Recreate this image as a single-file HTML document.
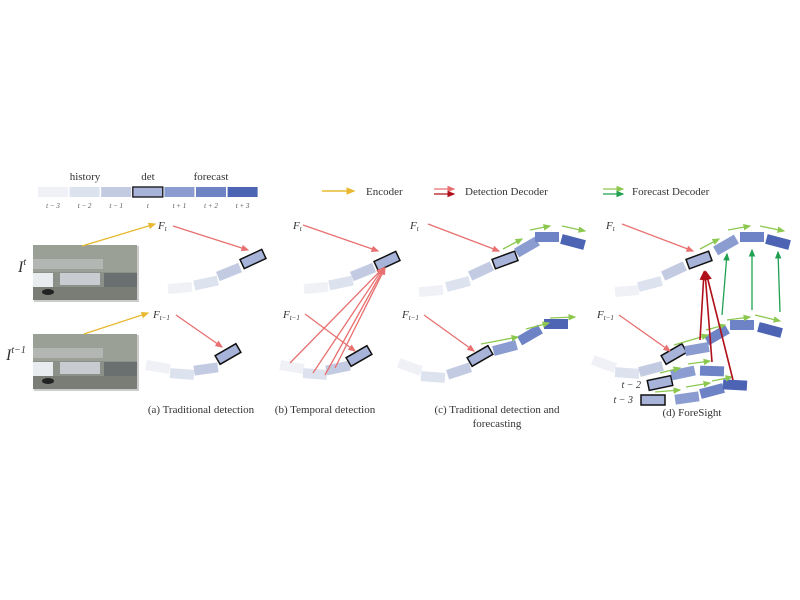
<!DOCTYPE html>
<html><head><meta charset="utf-8">
<style>
html,body{margin:0;padding:0;background:#fff;}
svg{display:block;font-family:"Liberation Serif",serif;}
</style></head>
<body>
<svg id="fig" width="800" height="600" viewBox="0 0 800 600" xmlns="http://www.w3.org/2000/svg">
<defs>
<marker id="mY" markerWidth="6" markerHeight="6" refX="5" refY="3" orient="auto"><path d="M0,0.5 L6,3 L0,5.5z" fill="#e8b830"/></marker>
<marker id="mR" markerWidth="6" markerHeight="6" refX="5" refY="3" orient="auto"><path d="M0,0.5 L6,3 L0,5.5z" fill="#e87070"/></marker>
<marker id="mD" markerWidth="6" markerHeight="6" refX="5" refY="3" orient="auto"><path d="M0,0.5 L6,3 L0,5.5z" fill="#b0101a"/></marker>
<marker id="mG" markerWidth="6" markerHeight="6" refX="5" refY="3" orient="auto"><path d="M0,0.5 L6,3 L0,5.5z" fill="#8cc850"/></marker>
<marker id="mE" markerWidth="6" markerHeight="6" refX="5" refY="3" orient="auto"><path d="M0,0.5 L6,3 L0,5.5z" fill="#20a050"/></marker>
</defs>
<g id="legend" font-size="11" fill="#333">
<text x="85" y="180" text-anchor="middle">history</text>
<text x="148" y="180" text-anchor="middle">det</text>
<text x="211" y="180" text-anchor="middle">forecast</text>
<line x1="322" y1="191" x2="354" y2="191" stroke="#e8b830" stroke-width="1.5" marker-end="url(#mY)"/>
<text x="366" y="195">Encoder</text>
<line x1="434" y1="189" x2="454" y2="189" stroke="#e87070" stroke-width="1.3" marker-end="url(#mR)"/>
<line x1="434" y1="194" x2="454" y2="194" stroke="#b0101a" stroke-width="1.3" marker-end="url(#mD)"/>
<text x="465" y="195">Detection Decoder</text>
<line x1="603" y1="189" x2="623" y2="189" stroke="#8cc850" stroke-width="1.3" marker-end="url(#mG)"/>
<line x1="603" y1="194" x2="623" y2="194" stroke="#20a050" stroke-width="1.3" marker-end="url(#mE)"/>
<text x="632" y="195">Forecast Decoder</text>
</g>
<g id="marks"></g>
<g font-size="11" fill="#333" font-style="italic">
<text x="18" y="272" font-size="16">I<tspan font-size="10" dy="-7">t</tspan></text>
<text x="6" y="360" font-size="16">I<tspan font-size="10" dy="-7">t−1</tspan></text>
</g>
<g font-size="11" fill="#333" text-anchor="middle">
<text x="201" y="413">(a) Traditional detection</text>
<text x="325" y="413">(b) Temporal detection</text>
<text x="497" y="413">(c) Traditional detection and</text>
<text x="497" y="427">forecasting</text>
<text x="692" y="416">(d) ForeSight</text>
</g>
</svg>
<script>
const NS="http://www.w3.org/2000/svg";
const colors=["#eff1f7","#dde2ef","#c3cbe3","#a7b3d8","#8b9cd0","#6e83c5","#4d64b4"];
// legend
const legendLabels=["t − 3","t − 2","t − 1","t","t + 1","t + 2","t + 3"];
// boxes: [cx, cy, angleDeg, colorIndex, outlined]
const boxesA=[[180,288,-5,0,0],[206,283,-12,1,0],[229,272,-22,2,0],[253,259,-25,3,1],
 [158,367,10,0,0],[182,374,4,1,0],[206,369,-8,2,0],[228,354,-30,3,1]];
const boxesB=[[316,288,-5,0,0],[341,283,-12,1,0],[363,272,-22,2,0],[387,261,-25,3,1],
 [292,367,10,0,0],[315,374,4,1,0],[338,368,-12,2,0],[359,356,-30,3,1]];
const boxesC=[[431,291,-5,0,0],[458,284,-15,1,0],[481,271,-25,2,0],[505,260,-20,3,1],[527,247,-30,4,0],[547,237,0,5,0],[573,242,15,6,0],
 [410,367,20,0,0],[433,377,4,1,0],[459,371,-18,2,0],[480,356,-30,3,1],[505,348,-15,4,0],[530,335,-30,5,0],[556,324,0,6,0]];
const boxesD=[[627,291,-5,0,0],[650,284,-15,1,0],[674,271,-25,2,0],[699,260,-20,3,1],[726,245,-30,4,0],[752,237,0,5,0],[778,242,15,6,0],
 [604,364,20,0,0],[627,373,4,1,0],[651,369,-15,2,0],[674,354,-30,3,1],[697,349,-10,4,0],[717,335,-30,5,0],[742,325,0,5,0],[770,330,15,6,0],
 [660,383,-12,3,1],[683,373,-12,4,0],[712,371,2,5,0],
 [653,400,0,3,1],[687,398,-8,4,0],[712,391,-15,5,0],[735,385,3,6,0]];
// arrows: [x1,y1,x2,y2,type]
const arrows=[
 [82,246,155,224,"Y"],[84,334,148,313,"Y"],
 [173,226,248,250,"R"],[176,315,222,347,"R"],
 [303,225,378,251,"R"],[305,314,355,351,"R"],
 [290,363,383,268,"R"],[313,373,383,268,"R"],[325,375,384,268,"R"],[335,368,385,268,"R"],
 [428,224,499,251,"R"],[424,315,474,351,"R"],
 [503,249,522,239,"G"],[530,230,550,226,"G"],[562,226,585,231,"G"],
 [481,344,518,337,"G"],[526,329,549,323,"G"],[550,318,575,317,"G"],
 [622,224,693,251,"R"],[619,315,670,351,"R"],
 [700,249,719,239,"G"],[728,230,750,226,"G"],[760,226,784,231,"G"],
 [674,345,708,335,"G"],[706,330,725,325,"G"],[727,320,750,317,"G"],[755,315,780,321,"G"],
 [660,373,680,368,"G"],[688,364,710,361,"G"],[655,392,680,390,"G"],[686,387,710,383,"G"],[712,381,732,377,"G"],
 [700,340,704,272,"D"],[712,362,705,272,"D"],[733,380,706,272,"D"],
 [722,315,727,254,"E"],[752,310,752,250,"E"],[780,312,778,252,"E"]];
const arrowColors={Y:"#e8b830",R:"#e87070",D:"#b0101a",G:"#8cc850",E:"#20a050"};
const fLabels=[[158,229,"t"],[293,229,"t"],[410,229,"t"],[606,229,"t"],
 [153,318,"t−1"],[283,318,"t−1"],[402,318,"t−1"],[597,318,"t−1"]];

const g=document.getElementById('marks');
function mk(tag,attrs,parent){const e=document.createElementNS(NS,tag);for(const k in attrs)e.setAttribute(k,attrs[k]);(parent||g).appendChild(e);return e;}

// legend bars
legendLabels.forEach((lab,i)=>{
 const r=mk('rect',{x:38+i*31.6,y:187,width:30,height:10,fill:colors[i],stroke:i===3?"#111":"none","stroke-width":1.3});
 
 
 const t=mk('text',{x:53+i*31.6,y:208,"font-size":7,"text-anchor":"middle","font-style":"italic",fill:"#555"});
 t.textContent=lab;
 
 
});
// camera images
[245,334].forEach((y,k)=>{
 const grp=mk('g',{});
 
 
 mk('rect',{x:34,y:y+1,width:105,height:56,fill:"#ccc",filter:""},grp);
 mk('rect',{x:33,y:y,width:104,height:55,fill:"#8c9088"},grp);
 mk('rect',{x:33,y:y,width:104,height:27,fill:"#9aa096"},grp);
 mk('rect',{x:33,y:y+14,width:70,height:10,fill:"#b4b6b4"},grp);
 mk('rect',{x:33,y:y+28,width:20,height:14,fill:"#e8ecee"},grp);
 mk('rect',{x:60,y:y+28,width:40,height:12,fill:"#c8ccd0"},grp);
 mk('rect',{x:33,y:y+42,width:104,height:13,fill:"#7a7c76"},grp);
 mk('rect',{x:104,y:y+28,width:33,height:14,fill:"#6a7070"},grp);
 mk('ellipse',{cx:48,cy:y+47,rx:6,ry:3,fill:"#222"},grp);
});
function box(b,name){
 const [cx,cy,a,ci,o]=b;
 const r=mk('rect',{x:cx-12,y:cy-5,width:24,height:10,fill:colors[ci],stroke:o?"#111":"none","stroke-width":1.5,transform:`rotate(${a} ${cx} ${cy})`});
 
 
}
boxesA.forEach((b,i)=>box(b,'box-a-'+i));
boxesB.forEach((b,i)=>box(b,'box-b-'+i));
boxesC.forEach((b,i)=>box(b,'box-c-'+i));
boxesD.forEach((b,i)=>box(b,'box-d-'+i));
arrows.forEach((a,i)=>{
 const l=mk('line',{x1:a[0],y1:a[1],x2:a[2],y2:a[3],stroke:arrowColors[a[4]],"stroke-width":a[4]==="D"?1.6:1.3,"marker-end":`url(#m${a[4]})`});
 
 
});
fLabels.forEach((f,i)=>{
 const t=mk('text',{x:f[0],y:f[1],"font-size":11,"font-style":"italic",fill:"#333"});
 t.textContent="F";
 const s=mk('tspan',{"font-size":7,dy:2},t);s.textContent=f[2];
 
 
});
[[641,388,"t − 2"],[633,403,"t − 3"]].forEach((f,i)=>{
 const t=mk('text',{x:f[0],y:f[1],"font-size":10,"font-style":"italic",fill:"#333","text-anchor":"end"});
 t.textContent=f[2];
 
 
});
</script>
</body></html>
